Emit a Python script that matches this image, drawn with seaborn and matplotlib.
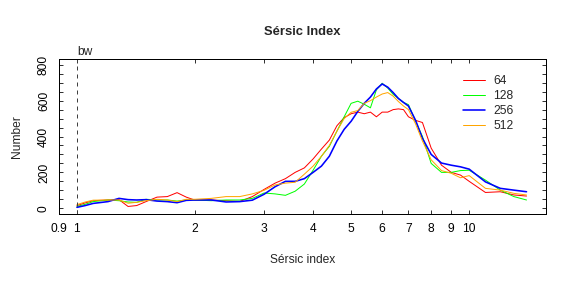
"""Sersic index distributions for several bin widths."""

import matplotlib

matplotlib.use("Agg")
import matplotlib.pyplot as plt
import matplotlib.ticker as mticker
import pandas as pd
import seaborn as sns

sersic = [1.0, 1.05, 1.1, 1.2, 1.28, 1.35, 1.42, 1.5, 1.6, 1.7, 1.8, 1.9, 2.0,
          2.2, 2.4, 2.6, 2.8, 3.0, 3.2, 3.4, 3.6, 3.8, 4.0, 4.2, 4.4, 4.6, 4.8,
          5.0, 5.2, 5.4, 5.6, 5.8, 6.0, 6.2, 6.4, 6.6, 6.8, 7.0, 7.3, 7.6, 8.0,
          8.5, 9.0, 9.5, 10, 11, 12, 13, 14]

n64 = [15, 30, 42, 46, 48, 10, 15, 37, 62, 65, 87, 62, 45,
       46, 42, 38, 65, 105, 140, 165, 200, 225, 275, 330, 380, 460, 505,
       527, 536, 527, 536, 510, 536, 536, 550, 554, 550, 510, 490, 478, 335,
       240, 200, 185, 150, 88, 92, 74, 68]
n128 = [10, 22, 37, 46, 42, 35, 33, 50, 46, 46, 40, 46, 46,
        42, 46, 46, 55, 85, 80, 72, 95, 135, 212, 290, 345, 430, 510,
        585, 597, 580, 560, 660, 697, 670, 635, 612, 590, 578, 485, 400, 250,
        200, 200, 210, 212, 157, 101, 65, 46]
n256 = [5, 15, 27, 37, 55, 48, 46, 48, 40, 37, 31, 44, 46,
        46, 35, 37, 45, 78, 120, 150, 150, 165, 200, 235, 290, 375, 440,
        485, 540, 585, 620, 665, 693, 675, 645, 612, 590, 570, 490, 390, 300,
        252, 240, 231, 218, 147, 111, 101, 92]
n512 = [20, 35, 45, 46, 46, 28, 33, 42, 50, 46, 37, 50, 50,
        55, 65, 65, 80, 100, 130, 140, 145, 190, 235, 290, 350, 430, 500,
        535, 545, 585, 600, 620, 637, 645, 625, 595, 570, 550, 470, 375, 270,
        210, 195, 170, 182, 111, 101, 83, 74]

labels = ["64", "128", "256", "512"]
colors = ["#ff0000", "#00ff00", "#0000ff", "#ffa500"]
widths = [1, 1, 1.6, 1]

x_ticks = [0.9, 1, 2, 3, 4, 5, 6, 7, 8, 9, 10]
y_ticks = [0, 200, 400, 600, 800]

sns.set_theme(style="ticks")
plt.rcParams["font.family"] = ["Liberation Sans", "DejaVu Sans"]

fig = plt.figure(figsize=(8, 4), dpi=72)
ax = fig.add_axes([0.1024, 0.257, 0.8456, 0.538])

for lab, vals, col, lw in zip(labels, [n64, n128, n256, n512], colors, widths):
    df = pd.DataFrame({"sersic": sersic, "n": vals})
    sns.lineplot(data=df, x="sersic", y="n", color=col, linewidth=lw,
                 label=lab, ax=ax)

# bandwidth marker
ax.axvline(1, color="#404040", linestyle=(0, (4, 4)), linewidth=1)
ax.text(1, 836, "bw", fontsize=12, ha="left", va="bottom")

ax.set_xscale("log")
ax.set_xlim(0.9, 15.7)
ax.set_ylim(-32, 832)
ax.xaxis.set_major_locator(mticker.FixedLocator(x_ticks))
ax.xaxis.set_major_formatter(mticker.FixedFormatter([str(t) for t in x_ticks]))
ax.xaxis.set_minor_locator(mticker.NullLocator())
ax.yaxis.set_major_locator(mticker.FixedLocator(y_ticks))
ax.yaxis.set_minor_locator(mticker.MultipleLocator(50))

ax.tick_params(axis="both", which="both", direction="in", top=True,
               right=True, length=4, width=0.8, color="black",
               labelsize=12, labelcolor="black")
ax.tick_params(axis="x", pad=9)
ax.tick_params(axis="y", pad=9)
for lbl in ax.get_yticklabels():
    lbl.set_rotation(90)
    lbl.set_va("center")

for sp in ax.spines.values():
    sp.set_color("black")
    sp.set_linewidth(1)

ax.set_xlabel("Sérsic index", fontsize=12, labelpad=19)
ax.set_ylabel("Number", fontsize=12, labelpad=15)
ax.set_title("Sérsic Index", fontsize=13, fontweight="bold", pad=24)

ax.legend(loc="upper left", frameon=False, fontsize=12,
          handlelength=1.85, handletextpad=0.65, borderaxespad=0,
          bbox_to_anchor=(0.82, 0.925), labelspacing=0.25)

fig.savefig("out.png", dpi=72)
